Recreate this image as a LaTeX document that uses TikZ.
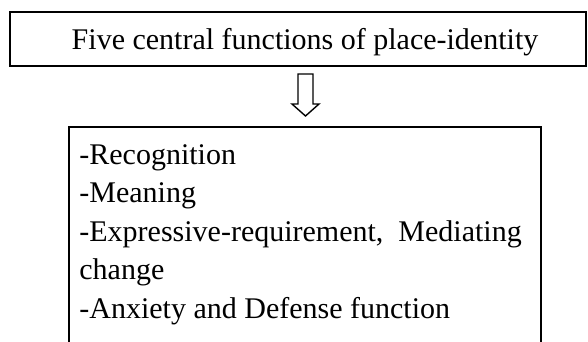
\documentclass[tikz,border=0pt]{standalone}
\usepackage{fontspec}
\setmainfont{Liberation Serif}
\usepackage{tikz}

\tikzset{
    boxline/.style={line width=1pt, draw=black},
    txt/.style={inner sep=0pt, font=\fontsize{15}{19}\selectfont}
}

\begin{document}
\begin{tikzpicture}[x=0.5pt, y=-0.5pt]
        \useasboundingbox (0,0) rectangle (588,342);
        \clip (0,0) rectangle (588,342);
        % top box
        \draw[boxline] (10,12.5) rectangle (586,66);
        \draw
            (305,50) node[txt, anchor=base] (title) {Five central functions of place-identity};
        % hollow arrow
        \coordinate (tail) at (305.5,74);
        \draw[line width=0.7pt, line join=miter]
            (tail) ++(-7.5,0) -- ++(0,30) -- ++(-6,0) -- ++(13.5,12)
            -- ++(13.5,-12) -- ++(-6,0) -- ++(0,-30) -- cycle;
        % bottom box, open at the foot
        \draw[boxline] (69,350) -- (69,126.7) -- (541,126.7) -- (541,350);
        \draw
            (79,164.5) node[txt, anchor=base west] (rec) {-Recognition};
        \draw
            (79,202.9) node[txt, anchor=base west] (mean) {-Meaning};
        \draw
            (79,241.3) node[txt, anchor=base west] (expr) {-Expressive-requirement,\ \ Mediating};
        \draw
            (79,279.7) node[txt, anchor=base west] (chng) {change};
        \draw
            (79,318.1) node[txt, anchor=base west] (anx) {-Anxiety and Defense function};
\end{tikzpicture}
\end{document}
